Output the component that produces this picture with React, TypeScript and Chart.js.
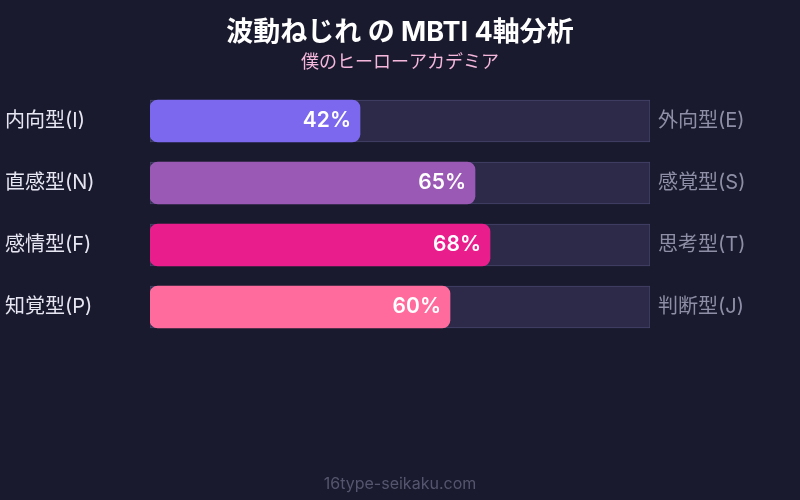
import { Chart, registerables } from 'chart.js'
import { useEffect, useRef } from 'react'

Chart.register(...registerables)

const leftLabels = ['内向型(I)', '直感型(N)', '感情型(F)', '知覚型(P)']
const rightLabels = ['外向型(E)', '感覚型(S)', '思考型(T)', '判断型(J)']
const values = [42, 65, 68, 60]
const trackValues = [100, 100, 100, 100]
const barColors = ['#7b68ee', '#9b59b6', '#e91e8c', '#ff6b9d']

const FONT = "Inter, 'Noto Sans CJK JP', sans-serif"

// ラベルとタイトルを描くプラグイン
const labelPlugin = {
  id: 'mbtiLabels',
  afterDatasetsDraw(chart: any) {
    const { ctx, scales, width } = chart
    const x = scales.x
    const y = scales.y
    ctx.save()
    ctx.textBaseline = 'middle'

    values.forEach((v, i) => {
      const cy = y.getPixelForValue(i)
      ctx.font = `20px ${FONT}`
      ctx.textAlign = 'left'
      ctx.fillStyle = '#e6e6f2'
      ctx.fillText(leftLabels[i], 5, cy)
      ctx.fillStyle = '#8e8ea6'
      ctx.fillText(rightLabels[i], x.right + 8, cy)
      ctx.font = `600 21px ${FONT}`
      ctx.textAlign = 'right'
      ctx.fillStyle = '#ffffff'
      ctx.fillText(`${v}%`, x.getPixelForValue(v) - 9, cy)
    })

    ctx.textAlign = 'center'
    ctx.fillStyle = '#ffffff'
    ctx.font = `bold 27px ${FONT}`
    ctx.fillText('波動ねじれ の MBTI 4軸分析', width / 2, 33)
    ctx.fillStyle = '#f5b8dc'
    ctx.font = `18px ${FONT}`
    ctx.fillText('僕のヒーローアカデミア', width / 2, 63)
    ctx.fillStyle = '#55556f'
    ctx.font = `16px ${FONT}`
    ctx.fillText('16type-seikaku.com', width / 2, 484)
    ctx.restore()
  }
}

export default function App() {
  const canvasRef = useRef<HTMLCanvasElement | null>(null)

  useEffect(() => {
    const ctx = canvasRef.current?.getContext('2d')
    if (!ctx) return
    const chart = new Chart(ctx, {
      type: 'bar',
      data: {
        labels: leftLabels,
        datasets: [
          {
            label: 'value',
            data: values,
            backgroundColor: barColors,
            borderRadius: 8,
            borderSkipped: false,
            barThickness: 42,
            grouped: false,
            order: 1
          },
          {
            label: 'track',
            data: trackValues,
            backgroundColor: '#2c2a48',
            borderColor: '#45456a',
            borderWidth: 1,
            borderSkipped: false,
            barThickness: 42,
            grouped: false,
            order: 2
          }
        ]
      },
      options: {
        indexAxis: 'y',
        responsive: false,
        animation: false,
        layout: { padding: { top: 90, bottom: 162, left: 150, right: 150 } },
        plugins: {
          legend: { display: false },
          tooltip: { enabled: false },
          title: { display: false }
        },
        scales: {
          x: { display: false, min: 0, max: 100 },
          y: { display: false }
        }
      },
      plugins: [labelPlugin]
    })
    return () => chart.destroy()
  }, [])

  return (
    <div style={{ position: 'fixed', left: 0, top: 0, width: 800, height: 500, background: '#1a1a2e' }}>
      <canvas ref={canvasRef} width={800} height={500} style={{ width: 800, height: 500 }} />
    </div>
  )
}
